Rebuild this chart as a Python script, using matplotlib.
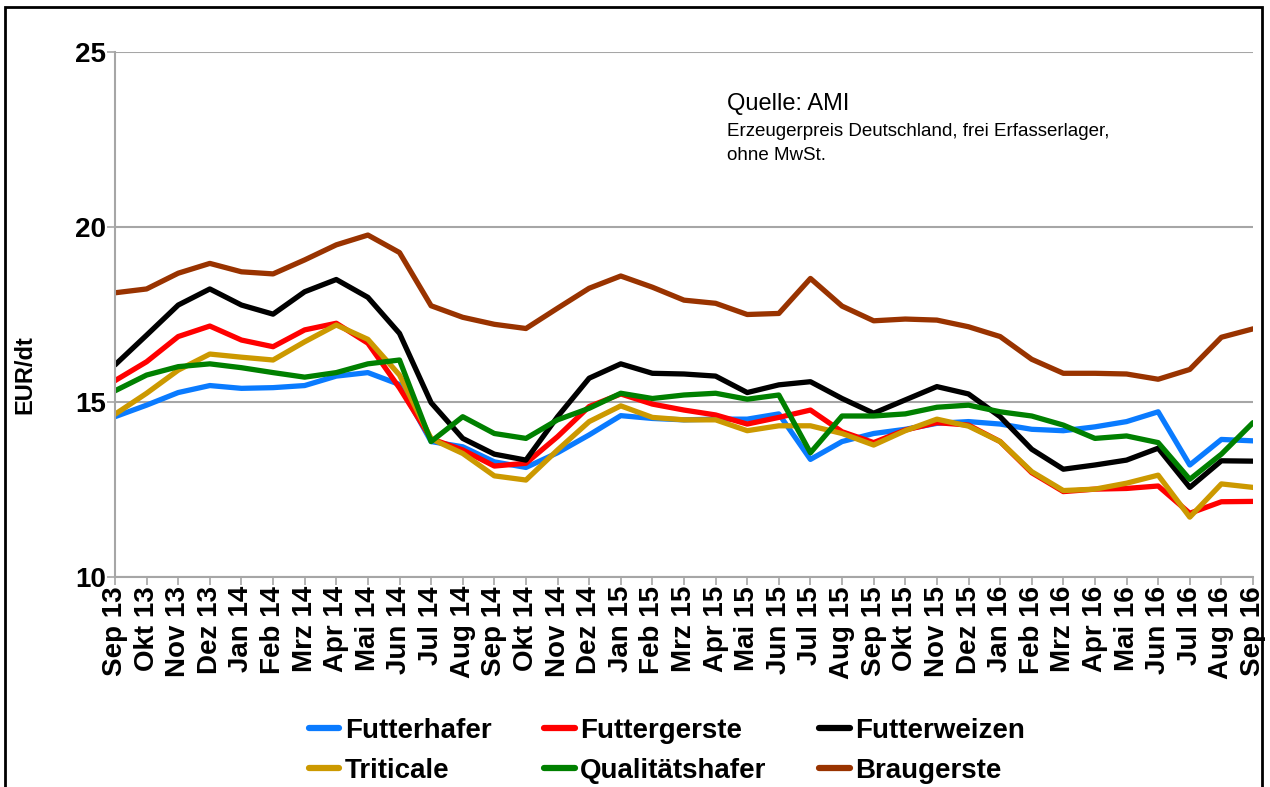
import matplotlib
matplotlib.use("Agg")
import matplotlib.pyplot as plt
from matplotlib.patches import Rectangle

plt.rcParams['font.family'] = ['Liberation Sans', 'DejaVu Sans']

months = ['Sep', 'Okt', 'Nov', 'Dez', 'Jan', 'Feb', 'Mrz', 'Apr', 'Mai', 'Jun', 'Jul', 'Aug']
labels = []
for k in range(37):
    m = months[k % 12]
    yr = 13 + (k + 8) // 12
    labels.append('{0} {1}'.format(m, yr))

futterhafer = [14.58, 14.91, 15.27, 15.47, 15.39, 15.41, 15.47, 15.74, 15.84, 15.50,
               13.87, 13.72, 13.29, 13.13, 13.55, 14.06, 14.61, 14.53, 14.49, 14.51, 14.51, 14.66,
               13.36, 13.87, 14.10, 14.22, 14.39, 14.44, 14.37, 14.22, 14.18, 14.29, 14.44, 14.72,
               13.20, 13.93, 13.89]
futtergerste = [15.61, 16.15, 16.87, 17.17, 16.77, 16.58, 17.06, 17.25, 16.68, 15.40,
                13.95, 13.63, 13.17, 13.25, 14.01, 14.87, 15.23, 14.94, 14.77, 14.63, 14.37, 14.56,
                14.77, 14.15, 13.84, 14.20, 14.41, 14.34, 13.87, 12.98, 12.44, 12.51, 12.53, 12.60,
                11.82, 12.15, 12.16]
futterweizen = [16.06, 16.91, 17.77, 18.23, 17.77, 17.51, 18.15, 18.50, 17.99, 16.96,
                14.98, 13.96, 13.51, 13.34, 14.58, 15.68, 16.09, 15.82, 15.80, 15.74, 15.27, 15.49,
                15.58, 15.10, 14.68, 15.06, 15.44, 15.23, 14.58, 13.65, 13.08, 13.20, 13.34, 13.68,
                12.56, 13.32, 13.31]
triticale = [14.65, 15.25, 15.91, 16.37, 16.28, 16.20, 16.72, 17.20, 16.79, 15.77,
             13.95, 13.53, 12.89, 12.77, 13.63, 14.44, 14.89, 14.56, 14.49, 14.49, 14.18, 14.32,
             14.32, 14.10, 13.77, 14.18, 14.51, 14.31, 13.87, 13.01, 12.47, 12.51, 12.68, 12.91,
             11.71, 12.66, 12.56]
qualitaetshafer = [15.32, 15.77, 16.01, 16.09, 15.98, 15.84, 15.71, 15.84, 16.09, 16.20,
                   13.87, 14.58, 14.10, 13.96, 14.49, 14.82, 15.25, 15.10, 15.20, 15.25, 15.08, 15.20,
                   13.55, 14.60, 14.60, 14.66, 14.85, 14.91, 14.72, 14.60, 14.34, 13.96, 14.03, 13.84,
                   12.79, 13.51, 14.41]
braugerste = [18.12, 18.23, 18.68, 18.96, 18.72, 18.66, 19.06, 19.49, 19.77, 19.27,
              17.75, 17.42, 17.22, 17.10, 17.68, 18.25, 18.60, 18.28, 17.91, 17.82, 17.50, 17.53,
              18.53, 17.74, 17.32, 17.37, 17.34, 17.15, 16.87, 16.22, 15.82, 15.82, 15.80, 15.65,
              15.93, 16.85, 17.09]

series = [('Futterhafer', futterhafer, '#0a7bff'),
          ('Futtergerste', futtergerste, '#ff0000'),
          ('Futterweizen', futterweizen, '#000000'),
          ('Triticale', triticale, '#cc9900'),
          ('Qualitätshafer', qualitaetshafer, '#008000'),
          ('Braugerste', braugerste, '#993300')]

fig = plt.figure(figsize=(12.7, 7.87), dpi=100)
ax = fig.add_axes([115/1270, 1-577/787, (1253-115)/1270, (577-52)/787])

x = list(range(len(labels)))
lines = {}
for name, vals, col in series:
    lines[name], = ax.plot(x, vals, color=col, lw=3.8, label=name, solid_capstyle='round')

ax.set_xlim(0, len(labels)-1)
ax.set_ylim(10, 25)
ax.set_yticks([10, 15, 20, 25])
ax.set_xticks(x)
ax.set_xticklabels(labels, rotation=90, fontsize=20, fontweight='bold')
for t in ax.get_yticklabels():
    t.set_fontsize(20)
    t.set_fontweight('bold')
ax.grid(axis='y', color='#a6a6a6', lw=1.5)
ax.set_axisbelow(True)
for s in ['top', 'right']:
    ax.spines[s].set_visible(False)
for s in ['left', 'bottom']:
    ax.spines[s].set_color('#a6a6a6')
    ax.spines[s].set_linewidth(1.5)
ax.tick_params(axis='both', color='#a6a6a6', length=6, width=1.2, pad=0.5)

fig.text(25/1270, 1-375/787, 'EUR/dt', rotation=90, fontsize=17, fontweight='bold',
         ha='center', va='center')

fig.text(727/1270, 1-104/787, 'Quelle: AMI', fontsize=17, ha='left', va='center')
fig.text(727/1270, 1-131/787, 'Erzeugerpreis Deutschland, frei Erfasserlager,', fontsize=13.5,
         ha='left', va='center')
fig.text(727/1270, 1-155/787, 'ohne MwSt.', fontsize=13.5, ha='left', va='center')

order = ['Futterhafer', 'Triticale', 'Futtergerste', 'Qualitätshafer', 'Futterweizen', 'Braugerste']
leg = fig.legend([lines[n] for n in order], order, ncol=3, loc='center',
                 bbox_to_anchor=(667/1270, 1-751/787), frameon=False,
                 prop={'size': 20, 'weight': 'bold'}, handlelength=1.1,
                 handletextpad=0.2, columnspacing=1.9, labelspacing=0.5)
for h in leg.legend_handles:
    h.set_linewidth(4.5)
    h.set_solid_capstyle('round')

fig.patches.append(Rectangle((5/1270, -0.05), (1262-5)/1270, 1.05-7/787, transform=fig.transFigure,
                             fill=False, edgecolor='black', lw=2))

fig.savefig('out.png', dpi=100)
